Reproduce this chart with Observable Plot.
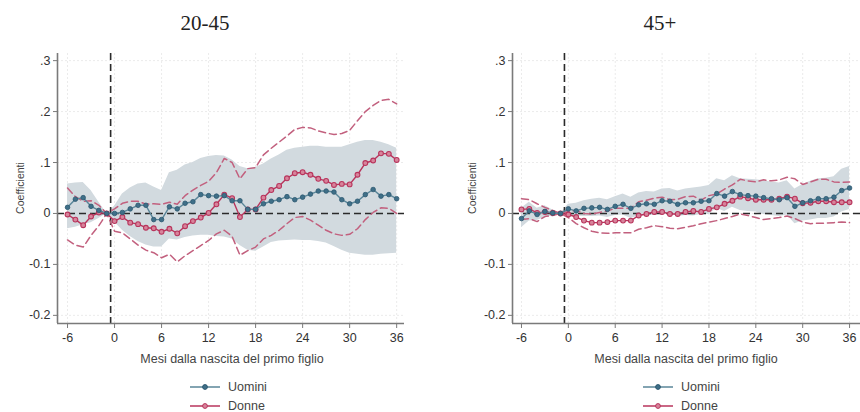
<!DOCTYPE html>
<html>
<head>
<meta charset="utf-8">
<script src="https://cdn.jsdelivr.net/npm/d3@7"></script>
<script src="https://cdn.jsdelivr.net/npm/@observablehq/plot@0.6"></script>
<style>
  body { margin: 0; background: #fff; }
  #root { position: relative; width: 860px; height: 412px; overflow: hidden; font-family: "Liberation Sans", Arial, sans-serif; color: #333; }
  .abs { position: absolute; white-space: nowrap; }
  .title { font-family: "Liberation Serif", "Times New Roman", serif; font-size: 21px; color: #222; transform: translate(-50%, -50%); }
  .xlab { font-size: 12.5px; color: #444; transform: translate(-50%, -50%); }
  .ylab { font-size: 10.5px; color: #444; transform: translate(-50%, -50%) rotate(-90deg); }
  .leg { font-size: 12.5px; color: #444; display: flex; align-items: center; }
  .leg svg { margin-right: 8px; }
</style>
</head>
<body>
<div id="root"></div>
<script>
// ---- data ----
const months = [-6,-5,-4,-3,-2,-1,0,1,2,3,4,5,6,7,8,9,10,11,12,13,14,15,16,17,18,19,20,21,22,23,24,25,26,27,28,29,30,31,32,33,34,35,36];
const xTickValues = [-6,0,6,12,18,24,30,36];
const yTickValues = [-0.2,-0.1,0,0.1,0.2,0.3];
const panelTitles = ["20-45", "45+"];
const seriesNames = ["Uomini", "Donne"];
const xAxisLabel = "Mesi dalla nascita del primo figlio";
const yAxisLabel = "Coefficienti";

// Panel 20-45
const uominiYoung = [0.012,0.028,0.031,0.014,0.006,0, 0,0.002,0.009,0.016,0.016,-0.012,-0.012,0.013,0.009,0.02, 0.023,0.037,0.035,0.034,0.035,0.025,0.025,0.008,0.008,0.019, 0.024,0.027,0.033,0.027,0.032,0.038,0.044,0.044,0.042,0.027, 0.019,0.024,0.037,0.047,0.034,0.037,0.029];
const uominiYoungLo = [-0.03,-0.027,-0.022,-0.018,-0.01,0, -0.017,-0.033,-0.045,-0.055,-0.062,-0.066,-0.066,-0.05,-0.052,-0.047, -0.044,-0.043,-0.043,-0.045,-0.046,-0.05,-0.063,-0.072,-0.074,-0.066, -0.057,-0.054,-0.053,-0.052,-0.053,-0.053,-0.055,-0.058,-0.065,-0.072, -0.078,-0.08,-0.082,-0.082,-0.08,-0.079,-0.078];
const uominiYoungHi = [0.058,0.06,0.061,0.045,0.022,0, 0.014,0.038,0.05,0.058,0.06,0.052,0.045,0.08,0.085,0.095, 0.1,0.108,0.112,0.114,0.113,0.105,0.092,0.088,0.09,0.097, 0.107,0.115,0.124,0.128,0.13,0.132,0.132,0.13,0.13,0.13, 0.135,0.14,0.143,0.143,0.14,0.135,0.128];
const donneYoung = [-0.002,-0.012,-0.023,-0.006,0.002,0, -0.015,-0.007,-0.018,-0.021,-0.028,-0.029,-0.036,-0.03,-0.039,-0.025, -0.015,-0.008,0.001,0.018,0.037,0.03,-0.007,0.008,0.008,0.031, 0.046,0.054,0.069,0.079,0.081,0.076,0.068,0.064,0.056,0.058, 0.057,0.076,0.099,0.104,0.118,0.117,0.105];
const donneYoungLo = [-0.052,-0.062,-0.066,-0.043,-0.024,0, -0.035,-0.038,-0.05,-0.062,-0.072,-0.077,-0.087,-0.08,-0.095,-0.083, -0.073,-0.063,-0.053,-0.04,-0.033,-0.045,-0.082,-0.073,-0.066,-0.05, -0.043,-0.033,-0.02,-0.008,-0.006,-0.013,-0.023,-0.033,-0.04,-0.043, -0.041,-0.03,-0.012,0.002,0.011,0.01,0.0];
const donneYoungHi = [0.05,0.033,0.024,0.025,0.016,0, 0.009,0.02,0.024,0.024,0.018,0.019,0.018,0.022,0.018,0.035, 0.046,0.055,0.063,0.08,0.108,0.1,0.068,0.088,0.09,0.115, 0.128,0.14,0.152,0.165,0.169,0.168,0.162,0.158,0.155,0.157, 0.163,0.182,0.2,0.212,0.222,0.224,0.215];

// Panel 45+
const uominiOld = [-0.01,0.005,-0.002,0.004,0.001,0, 0.009,0.005,0.01,0.011,0.012,0.008,0.014,0.018,0.01,0.017, 0.019,0.018,0.025,0.024,0.018,0.021,0.021,0.024,0.025,0.039, 0.034,0.043,0.037,0.035,0.034,0.031,0.029,0.027,0.031,0.014, 0.021,0.025,0.029,0.029,0.032,0.045,0.05];
const uominiOldLo = [-0.028,-0.015,-0.014,-0.008,-0.005,0, -0.003,-0.005,-0.006,-0.006,-0.005,-0.008,-0.004,-0.003,-0.01,-0.005, -0.003,-0.004,0.002,0,-0.006,-0.004,-0.005,-0.002,-0.002,0.01, 0.004,0.012,0.006,0.004,0.003,-0.002,-0.004,-0.006,-0.003,-0.02, -0.015,-0.013,-0.01,-0.01,-0.007,0.003,0.008];
const uominiOldHi = [0.01,0.022,0.01,0.015,0.007,0, 0.018,0.02,0.025,0.028,0.03,0.027,0.033,0.038,0.032,0.04, 0.043,0.042,0.048,0.049,0.044,0.048,0.05,0.052,0.055,0.068, 0.064,0.074,0.068,0.067,0.066,0.064,0.062,0.06,0.064,0.048, 0.057,0.063,0.068,0.069,0.072,0.087,0.092];
const donneOld = [0.008,0.009,0.001,0.003,0.001,0, -0.002,-0.007,-0.014,-0.018,-0.018,-0.017,-0.014,-0.014,-0.014,-0.004, -0.001,0.003,0.003,-0.001,-0.001,0.003,0.005,0.003,0.009,0.012, 0.019,0.025,0.033,0.03,0.027,0.027,0.027,0.029,0.033,0.029, 0.02,0.021,0.024,0.024,0.022,0.022,0.022];
const donneOldLo = [-0.012,-0.01,-0.016,-0.006,-0.004,0, -0.008,-0.02,-0.028,-0.035,-0.038,-0.039,-0.038,-0.038,-0.038,-0.031, -0.028,-0.024,-0.026,-0.029,-0.03,-0.027,-0.024,-0.02,-0.017,-0.014, -0.01,-0.006,-0.001,-0.004,-0.008,-0.012,-0.01,-0.008,-0.005,-0.01, -0.017,-0.02,-0.019,-0.019,-0.018,-0.017,-0.018];
const donneOldHi = [0.029,0.027,0.019,0.012,0.006,0, 0.004,0.006,0.0,-0.001,0.002,0.005,0.01,0.01,0.01,0.023, 0.026,0.03,0.032,0.027,0.028,0.033,0.034,0.026,0.035,0.038, 0.048,0.056,0.067,0.064,0.062,0.066,0.064,0.066,0.071,0.068, 0.057,0.062,0.067,0.067,0.062,0.061,0.062];

// ---- styling ----
const C = {
  band: "#d2dadf",
  teal: "#3f6f88",
  tealLine: "#5a8699",
  tealStroke: "#2c5870",
  red: "#b8345c",
  redFill: "#d7849b",
  redDash: "#c2607e",
  axis: "#7a7a7a",
  grid: "#ebebeb"
};
const fmtY = d => d === 0 ? "0" : d3.format(".1f")(d).replace(/^(-?)0\./, "$1.").replace("−", "-");

function makeRows(u, ulo, uhi, d, dlo, dhi) {
  return months.map((m, i) => ({m, u: u[i], ulo: ulo[i], uhi: uhi[i], d: d[i], dlo: dlo[i], dhi: dhi[i]}));
}

function panelPlot(rows, xDomain, marginLeft, marginRight) {
  const yDomain = [-0.216, 0.314];
  return Plot.plot({
    width: 430,
    height: 330,
    marginTop: 13,
    marginBottom: 47,
    marginLeft,
    marginRight,
    style: {fontFamily: "'Liberation Sans', Arial, sans-serif", fontSize: "12.5px", color: "#333", background: "white", overflow: "visible"},
    x: {domain: xDomain},
    y: {domain: yDomain},
    marks: [
      Plot.gridY(yTickValues, {stroke: C.grid, strokeOpacity: 1, strokeDasharray: "2,2"}),
      Plot.gridX(xTickValues, {stroke: C.grid, strokeOpacity: 1, strokeDasharray: "2,2"}),
      Plot.areaY(rows, {x: "m", y1: "ulo", y2: "uhi", fill: C.band, fillOpacity: 1}),
      Plot.ruleY([0], {stroke: "#2a2a2a", strokeWidth: 1.4, strokeDasharray: "7,4"}),
      Plot.ruleX([-0.5], {stroke: "#2a2a2a", strokeWidth: 1.6, strokeDasharray: "7,4"}),
      Plot.line(rows, {x: "m", y: "dlo", stroke: C.redDash, strokeWidth: 1.5, strokeDasharray: "7,4"}),
      Plot.line(rows, {x: "m", y: "dhi", stroke: C.redDash, strokeWidth: 1.5, strokeDasharray: "7,4"}),
      Plot.line(rows, {x: "m", y: "d", stroke: C.red, strokeWidth: 1.4}),
      Plot.dot(rows, {x: "m", y: "d", r: 2.4, fill: C.redFill, stroke: C.red, strokeWidth: 1.1}),
      Plot.line(rows, {x: "m", y: "u", stroke: C.tealLine, strokeWidth: 1.4}),
      Plot.dot(rows, {x: "m", y: "u", r: 2.3, fill: C.teal, stroke: C.tealStroke, strokeWidth: 0.8}),
      Plot.axisX({ticks: xTickValues, tickSize: 5, tickPadding: 5, stroke: C.axis, color: "#333", label: null, tickFormat: d => String(d).replace("−", "-")}),
      Plot.axisY({ticks: yTickValues, tickSize: 4, tickPadding: 3, stroke: C.axis, color: "#333", label: null, tickFormat: fmtY}),
      Plot.ruleX([xDomain[0]], {stroke: C.axis, strokeWidth: 1.6}),
      Plot.ruleY([yDomain[0]], {stroke: C.axis, strokeWidth: 1.6})
    ]
  });
}

function legendItem(color, lineColor, fill, label) {
  const div = document.createElement("div");
  div.className = "leg";
  div.innerHTML = `<svg width="30" height="10"><line x1="0" y1="5" x2="30" y2="5" stroke="${lineColor}" stroke-width="1.5"/><circle cx="15" cy="5" r="2.4" fill="${fill}" stroke="${color}" stroke-width="1"/></svg><span>${label}</span>`;
  return div;
}

const root = document.getElementById("root");
function place(el, left, top) {
  el.style.left = left + "px";
  el.style.top = top + "px";
  el.classList.add("abs");
  root.appendChild(el);
  return el;
}
function textEl(cls, text) {
  const d = document.createElement("div");
  d.className = cls;
  d.textContent = text;
  return d;
}

const panels = [
  {title: panelTitles[0], rows: makeRows(uominiYoung, uominiYoungLo, uominiYoungHi, donneYoung, donneYoungLo, donneYoungHi),
   xDomain: [-7.28, 37.0], ml: 57, mr: 26, x0: 0, titleX: 205, xlabX: 232, ylabX: 20, legX: 190},
  {title: panelTitles[1], rows: makeRows(uominiOld, uominiOldLo, uominiOldHi, donneOld, donneOldLo, donneOldHi),
   xDomain: [-7.15, 37.4], ml: 82, mr: 0, x0: 430, titleX: 660, xlabX: 686, ylabX: 472, legX: 643}
];

for (const p of panels) {
  const svg = panelPlot(p.rows, p.xDomain, p.ml, p.mr);
  const wrap = document.createElement("div");
  wrap.appendChild(svg);
  place(wrap, p.x0, 40);
  place(textEl("title", p.title), p.titleX, 23);
  place(textEl("xlab", xAxisLabel), p.xlabX, 359);
  place(textEl("ylab", yAxisLabel), p.ylabX, 188);
  place(legendItem(C.tealStroke, C.tealLine, C.teal, seriesNames[0]), p.legX, 380);
  place(legendItem(C.red, C.red, C.redFill, seriesNames[1]), p.legX, 399);
}
</script>
</body>
</html>
